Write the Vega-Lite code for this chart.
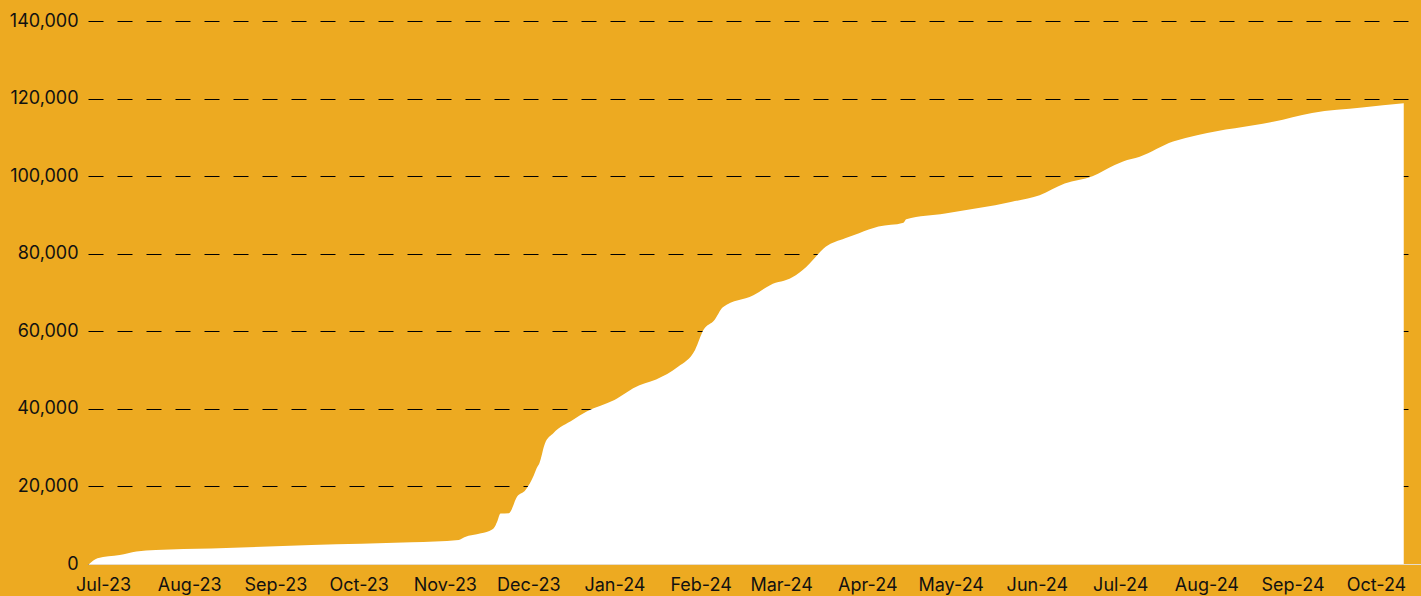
{
  "$schema": "https://vega.github.io/schema/vega-lite/v6.json",
  "width": 1333,
  "height": 543,
  "autosize": {"type": "none"},
  "padding": {"left": 88, "top": 21, "right": 0, "bottom": 32},
  "background": "#EDAA21",
  "config": {"view": {"stroke": null}, "font": "Inter"},
  "data": {
    "values": [
      {"date": "2023-06-26", "value": 0},
      {"date": "2023-06-29", "value": 1500},
      {"date": "2023-07-07", "value": 2300},
      {"date": "2023-07-13", "value": 3200},
      {"date": "2023-07-20", "value": 3600},
      {"date": "2023-08-09", "value": 4000},
      {"date": "2023-09-14", "value": 4900},
      {"date": "2023-10-20", "value": 5600},
      {"date": "2023-11-06", "value": 6200},
      {"date": "2023-11-08", "value": 6900},
      {"date": "2023-11-14", "value": 7900},
      {"date": "2023-11-18", "value": 8900},
      {"date": "2023-11-19", "value": 9700},
      {"date": "2023-11-20", "value": 11300},
      {"date": "2023-11-21", "value": 13000},
      {"date": "2023-11-24", "value": 13100},
      {"date": "2023-11-27", "value": 17400},
      {"date": "2023-11-30", "value": 19100},
      {"date": "2023-12-03", "value": 22900},
      {"date": "2023-12-04", "value": 24700},
      {"date": "2023-12-05", "value": 26000},
      {"date": "2023-12-07", "value": 31100},
      {"date": "2023-12-10", "value": 33700},
      {"date": "2023-12-17", "value": 37100},
      {"date": "2023-12-22", "value": 39300},
      {"date": "2024-01-01", "value": 42300},
      {"date": "2024-01-10", "value": 46100},
      {"date": "2024-01-12", "value": 46600},
      {"date": "2024-01-16", "value": 47600},
      {"date": "2024-01-24", "value": 50900},
      {"date": "2024-01-30", "value": 55200},
      {"date": "2024-02-02", "value": 60300},
      {"date": "2024-02-06", "value": 62900},
      {"date": "2024-02-09", "value": 66200},
      {"date": "2024-02-20", "value": 69300},
      {"date": "2024-02-26", "value": 71900},
      {"date": "2024-03-05", "value": 73900},
      {"date": "2024-03-10", "value": 76600},
      {"date": "2024-03-17", "value": 81800},
      {"date": "2024-03-24", "value": 84000},
      {"date": "2024-03-29", "value": 85300},
      {"date": "2024-04-05", "value": 87000},
      {"date": "2024-04-14", "value": 88000},
      {"date": "2024-04-15", "value": 88900},
      {"date": "2024-04-29", "value": 90400},
      {"date": "2024-05-23", "value": 93400},
      {"date": "2024-06-02", "value": 95100},
      {"date": "2024-06-11", "value": 98100},
      {"date": "2024-06-21", "value": 100000},
      {"date": "2024-06-29", "value": 102900},
      {"date": "2024-07-02", "value": 103800},
      {"date": "2024-07-08", "value": 105000},
      {"date": "2024-07-20", "value": 108900},
      {"date": "2024-07-29", "value": 110600},
      {"date": "2024-08-25", "value": 114000},
      {"date": "2024-09-08", "value": 116300},
      {"date": "2024-09-26", "value": 117700},
      {"date": "2024-10-11", "value": 118800}
    ]
  },
  "mark": {"type": "area", "color": "#FFFFFF", "interpolate": "monotone", "opacity": 1},
  "encoding": {
    "x": {
      "field": "date",
      "type": "temporal",
      "scale": {
        "type": "utc",
        "domain": [
          {"year": 2023, "month": 6, "date": 25, "hours": 14, "utc": true},
          {"year": 2024, "month": 10, "date": 17, "hours": 5, "utc": true}
        ]
      },
      "axis": {
        "title": null,
        "format": "%b-%y",
        "tickCount": {"interval": "month", "step": 1},
        "ticks": false,
        "labelPadding": 12,
        "labelFontSize": 18,
        "labelColor": "#111111",
        "labelFlush": false,
        "labelOverlap": false,
        "grid": false,
        "domain": true,
        "domainColor": "#E6DCCB",
        "domainWidth": 1
      }
    },
    "y": {
      "field": "value",
      "type": "quantitative",
      "scale": {"domain": [0, 140000], "nice": false},
      "axis": {
        "title": null,
        "values": [0, 20000, 40000, 60000, 80000, 100000, 120000, 140000],
        "format": ",.0f",
        "ticks": false,
        "labelPadding": 10,
        "labelFontSize": 18,
        "labelColor": "#111111",
        "domain": false,
        "grid": true,
        "gridColor": "#000000",
        "gridOpacity": 1,
        "gridWidth": 1,
        "gridDash": [15, 14]
      }
    }
  }
}
